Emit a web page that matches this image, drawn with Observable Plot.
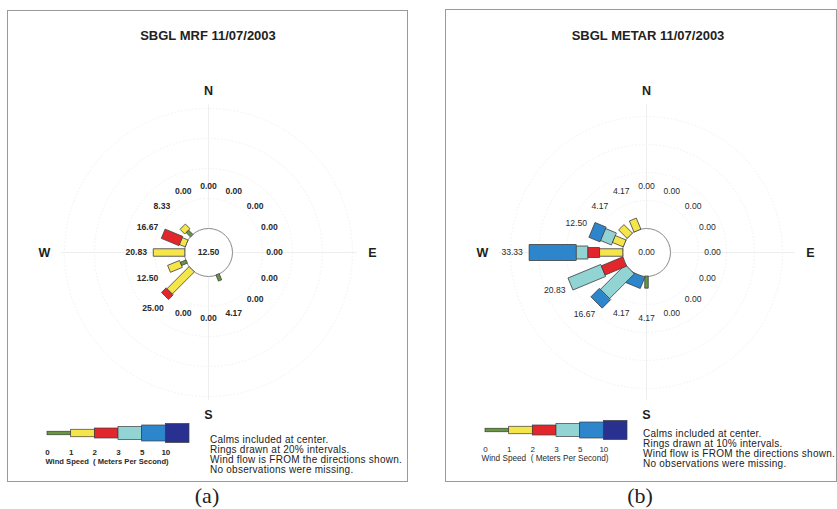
<!DOCTYPE html>
<html><head><meta charset="utf-8">
<script src="https://cdn.jsdelivr.net/npm/d3@7"></script>
<script src="https://cdn.jsdelivr.net/npm/@observablehq/plot@0.6"></script>
<style>
body{margin:0;background:#fff;width:837px;height:509px;position:relative;overflow:hidden;font-family:"Liberation Sans",Arial,sans-serif;color:#222}
.panel{position:absolute;border:1px solid #9a9a9a;box-sizing:border-box;background:#fff}
.abs{position:absolute}
.title{position:absolute;transform:translate(-50%,-50%);font-weight:bold;font-size:13px;white-space:nowrap;color:#222}
.notes{position:absolute;font-size:10px;line-height:10px;letter-spacing:0.25px;white-space:nowrap;color:#222}
.cap{position:absolute;font-family:"Liberation Serif","Times New Roman",serif;font-size:22px;transform:translate(-50%,-50%);color:#222}
</style></head><body>
<div class="panel" style="left:7px;top:10px;width:401px;height:472px"></div>
<div class="panel" style="left:445px;top:9px;width:392px;height:473px"></div>
<div id="roseA" class="abs" style="left:8px;top:11px"></div>
<div id="roseB" class="abs" style="left:446px;top:10px"></div>
<div id="legA" class="abs"></div>
<div id="legB" class="abs"></div>
<div id="titleA" class="title" style="left:208px;top:35px"></div>
<div id="titleB" class="title" style="left:648px;top:35px"></div>
<div id="notesA" class="notes" style="left:210px;top:435px"></div>
<div id="notesB" class="notes" style="left:643px;top:429px"></div>
<div id="capA" class="cap" style="left:207px;top:496px"></div>
<div id="capB" class="cap" style="left:640px;top:496px"></div>
<script>
// ---------- data ----------
const directions = ["N","NNE","NE","ENE","E","ESE","SE","SSE","S","SSW","SW","WSW","W","WNW","NW","NNW"];
const speedClasses = ["0-1","1-2","2-3","3-5","5-10",">10"];
const legendTicks = ["0","1","2","3","5","10"];
const legendTitle = "Wind Speed  ( Meters Per Second)";
const compass = ["N","E","S","W"];
const panelCaptions = ["(a)","(b)"];

// (a) SBGL MRF
const mrfTitle = "SBGL MRF 11/07/2003";
const mrfCalm = 12.50;
const mrfTotals = [0,0,0,0,0,0,0,4.17,0,0,25.00,12.50,20.83,16.67,8.33,0];
const mrf_0_1  = [0,0,0,0,0,0,0,4.17,0,0,0,4.17,0,0,4.17,0];
const mrf_1_2  = [0,0,0,0,0,0,0,0,0,0,20.83,8.33,20.83,4.17,4.17,0];
const mrf_2_3  = [0,0,0,0,0,0,0,0,0,0,4.17,0,0,12.50,0,0];
const mrf_3_5  = [0,0,0,0,0,0,0,0,0,0,0,0,0,0,0,0];
const mrf_5_10 = [0,0,0,0,0,0,0,0,0,0,0,0,0,0,0,0];
const mrf_10   = [0,0,0,0,0,0,0,0,0,0,0,0,0,0,0,0];
const mrfRings = [20,40,60,80];
const mrfNotes = ["Calms included at center.","Rings drawn at 20% intervals.","Wind flow is FROM the directions shown.","No observations were missing."];

// (b) SBGL METAR
const metarTitle = "SBGL METAR 11/07/2003";
const metarCalm = 0.00;
const metarTotals = [0,0,0,0,0,0,0,0,4.17,4.17,16.67,20.83,33.33,12.50,4.17,4.17];
const metar_0_1  = [0,0,0,0,0,0,0,0,4.17,0,0,0,0,0,0,0];
const metar_1_2  = [0,0,0,0,0,0,0,0,0,0,0,0,8.33,4.17,4.17,4.17];
const metar_2_3  = [0,0,0,0,0,0,0,0,0,0,0,8.33,4.17,0,0,0];
const metar_3_5  = [0,0,0,0,0,0,0,0,0,0,12.50,12.50,4.17,4.17,0,0];
const metar_5_10 = [0,0,0,0,0,0,0,0,0,4.17,4.17,0,16.67,4.17,0,0];
const metar_10   = [0,0,0,0,0,0,0,0,0,0,0,0,0,0,0,0];
const metarRings = [10,20,30,40];
const metarNotes = ["Calms included at center.","Rings drawn at 10% intervals.","Wind flow is FROM the directions shown.","No observations were missing."];

// ---------- styles ----------
const classColors = ["#67983f","#f4e54a","#e3262b","#92d4d3","#2d86cb","#28318f"];
const classWidths = [3.5,7.5,10,13,16,19];
const FONT = "Liberation Sans, Arial, sans-serif";

function rose(el, o) {
  const {W, H, cx, cy, k, calmR, classes, totals, calm, rings, bold} = o;
  const pts = [];
  const ends = [];
  directions.forEach((d, i) => {
    const th = i * Math.PI / 8;
    const ux = Math.sin(th), uy = Math.cos(th);
    const px = Math.cos(th), py = -Math.sin(th);
    let r = calmR / k;
    classes.forEach((arr, j) => {
      const v = arr[i];
      if (!v) return;
      const h = classWidths[j] / 2 / k;
      const r0 = r, r1 = r + v;
      const id = d + "-" + speedClasses[j];
      for (const [rr, s] of [[r0, 1], [r1, 1], [r1, -1], [r0, -1]])
        pts.push({id, color: classColors[j], x: rr * ux + s * h * px, y: rr * uy + s * h * py});
      r = r1;
    });
    ends.push(r * k);
  });
  const labels = directions.map((d, i) => {
    const th = i * Math.PI / 8;
    const R = Math.max(66, ends[i] + 17) / k;
    return {x: R * Math.sin(th), y: R * Math.cos(th), text: totals[i].toFixed(2)};
  });
  const card = compass.map((c, i) => {
    const th = i * Math.PI / 2;
    return {c, sx: Math.sin(th), sy: Math.cos(th)};
  });
  const wt = bold ? "bold" : "normal";
  const svg = Plot.plot({
    width: W, height: H, margin: 0,
    style: {background: "transparent", fontFamily: FONT},
    x: {domain: [-cx / k, (W - cx) / k], range: [0, W], axis: null},
    y: {domain: [cy / k, (cy - H) / k], range: [0, H], axis: null},
    r: {type: "identity"},
    color: {type: "identity"},
    marks: [
      Plot.link(card, {x1: 0, y1: 0, x2: d => d.sx * 148 / k, y2: d => d.sy * 148 / k, stroke: "#eeeeee", strokeWidth: 1}),
      Plot.dot(rings, {x: () => 0, y: () => 0, r: p => calmR + p * k, fill: "none", stroke: "#f1f1f1", strokeWidth: 1, strokeDasharray: "1.5,2"}),
      Plot.dot([calm], {x: () => 0, y: () => 0, r: calmR, fill: "white", stroke: "#8a8a8a", strokeWidth: 1}),
      Plot.line(pts, {x: "x", y: "y", z: "id", fill: "color", stroke: "#3c3c3c", strokeWidth: 0.8, curve: "linear-closed"}),
      Plot.text(labels, {x: "x", y: "y", text: "text", fontSize: 8.6, fontWeight: wt, fill: "#2a2a2a"}),
      Plot.text([calm], {x: () => 0, y: () => 0, text: d => d.toFixed(2), fontSize: 8.6, fontWeight: wt, fill: "#2a2a2a"}),
      Plot.text(card, {x: d => d.sx * 164 / k, y: d => d.sy * 162 / k, text: "c", fontSize: 12.5, fontWeight: "bold", fill: "#1e1e1e"})
    ]
  });
  el.appendChild(svg);
}

function legend(el, o) {
  const {x0, x1, yc, digitsY, titleY, bold, titleSize, left0} = o;
  const m = 15;
  const w = (x1 - x0) + 2 * m;
  el.style.left = (x0 - m) + "px";
  el.style.top = (yc - 15) + "px";
  const rows = speedClasses.map((c, i) => ({i, c, color: classColors[i], h: classWidths[i]}));
  const wt = bold ? "bold" : "normal";
  const svg = Plot.plot({
    width: w, height: 52, margin: 0,
    style: {background: "transparent", fontFamily: FONT},
    x: {domain: [0, 6], range: [m, m + (x1 - x0)], axis: null},
    y: {domain: [-15, 37], range: [0, 52], axis: null},
    marks: [
      Plot.rect(rows, {x1: d => d.i, x2: d => d.i + 1, y1: d => -d.h / 2, y2: d => d.h / 2, fill: d => d.color, stroke: "#3c3c3c", strokeWidth: 0.7}),
      Plot.text(legendTicks, {x: (d, i) => i, y: () => digitsY - yc, text: d => d, fontSize: 8, fontWeight: wt, fill: "#2a2a2a"}),
      Plot.text([legendTitle], {x: () => 0, y: () => titleY - yc, text: d => d, textAnchor: "start", dx: left0, fontSize: titleSize, fontWeight: wt, fill: "#2a2a2a"})
    ]
  });
  el.appendChild(svg);
}

rose(document.getElementById("roseA"), {
  W: 399, H: 470, cx: 200, cy: 241, k: 1.5, calmR: 24,
  classes: [mrf_0_1, mrf_1_2, mrf_2_3, mrf_3_5, mrf_5_10, mrf_10],
  totals: mrfTotals, calm: mrfCalm, rings: mrfRings, bold: true
});
rose(document.getElementById("roseB"), {
  W: 389, H: 471, cx: 200, cy: 242, k: 2.8, calmR: 24,
  classes: [metar_0_1, metar_1_2, metar_2_3, metar_3_5, metar_5_10, metar_10],
  totals: metarTotals, calm: metarCalm, rings: metarRings, bold: false
});
legend(document.getElementById("legA"), {x0: 47, x1: 189, yc: 433, digitsY: 452, titleY: 461, bold: true, titleSize: 7.6, left0: -2});
legend(document.getElementById("legB"), {x0: 485, x1: 627, yc: 430, digitsY: 449, titleY: 458, bold: false, titleSize: 8.2, left0: -4});

document.getElementById("titleA").textContent = mrfTitle;
document.getElementById("titleB").textContent = metarTitle;
document.getElementById("notesA").innerHTML = mrfNotes.map(s => "<div>" + s + "</div>").join("");
document.getElementById("notesB").innerHTML = metarNotes.map(s => "<div>" + s + "</div>").join("");
document.getElementById("capA").textContent = panelCaptions[0];
document.getElementById("capB").textContent = panelCaptions[1];
</script>
</body></html>
